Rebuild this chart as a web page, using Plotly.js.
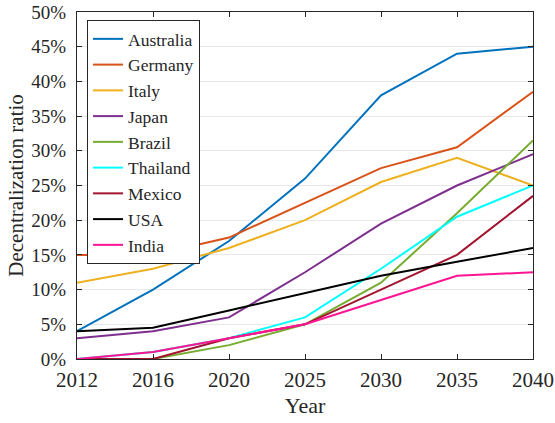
<!DOCTYPE html>
<html><head><meta charset="utf-8">
<script src="https://cdn.plot.ly/plotly-3.0.1.min.js"></script>
<style>html,body{margin:0;padding:0;background:#fff}</style>
</head><body>
<div id="chart" style="width:555px;height:423px"></div>
<script>
const years = ['2012','2016','2020','2025','2030','2035','2040'];
const australia = [4, 10, 17, 26, 38, 44, 45];
const germany   = [15, 15, 17.5, 22.5, 27.5, 30.5, 38.5];
const italy     = [11, 13, 16, 20, 25.5, 29, 25];
const japan     = [3, 4, 6, 12.5, 19.5, 25, 29.5];
const brazil    = [0, 0, 2, 5, 11, 21, 31.5];
const thailand  = [0, 1, 3, 6, 13, 20.5, 25];
const mexico    = [0, 0, 3, 5, 10, 15, 23.5];
const usa       = [4, 4.5, 7, 9.5, 12, 14, 16];
const india     = [0, 1, 3, 5, 8.5, 12, 12.5];

const seriesNames = ['Australia','Germany','Italy','Japan','Brazil','Thailand','Mexico','USA','India'];
const seriesData = [australia, germany, italy, japan, brazil, thailand, mexico, usa, india];
const colors = ['#0072BD','#D95319','#EDB120','#7E2F8E','#77AC30','#00FFFF','#A2142F','#000000','#FF1493'];

const traces = seriesNames.map((n,i)=>({
  type:'scatter', mode:'lines', name:n, x:years, y:seriesData[i],
  line:{color:colors[i], width:2}
}));

const fam = 'Liberation Serif, DejaVu Serif, Times, serif';
const f = (s)=>({family:fam, size:s, color:'#262626'});
const layout = {
  width:555, height:423,
  margin:{l:77, r:22, t:12, b:64},
  paper_bgcolor:'#fff', plot_bgcolor:'#fff',
  font:f(18),
  showlegend:true,
  legend:{x:0.022, y:0.977, xanchor:'left', yanchor:'top',
    bgcolor:'#fff', bordercolor:'#262626', borderwidth:1,
    font:f(17.5), tracegroupgap:0},
  xaxis:{type:'category', range:[0,6], showgrid:false, zeroline:false,
    showline:true, linecolor:'#262626', linewidth:1, mirror:'ticks',
    ticks:'inside', ticklen:5, tickcolor:'#262626',
    tickfont:f(21), ticklabelstandoff:2,
    title:{text:'Year', font:f(22), standoff:6}},
  yaxis:{range:[0,50], dtick:5, ticksuffix:'%', showgrid:true, gridcolor:'#e8e8e8',
    zeroline:false, showline:true, linecolor:'#262626', linewidth:1, mirror:'ticks',
    ticks:'inside', ticklen:5, tickcolor:'#262626',
    tickfont:f(19), ticklabelstandoff:6,
    title:{text:'Decentralization ratio', font:f(21), standoff:2}}
};
Plotly.newPlot('chart', traces, layout, {displayModeBar:false, staticPlot:true});
</script>
</body></html>
